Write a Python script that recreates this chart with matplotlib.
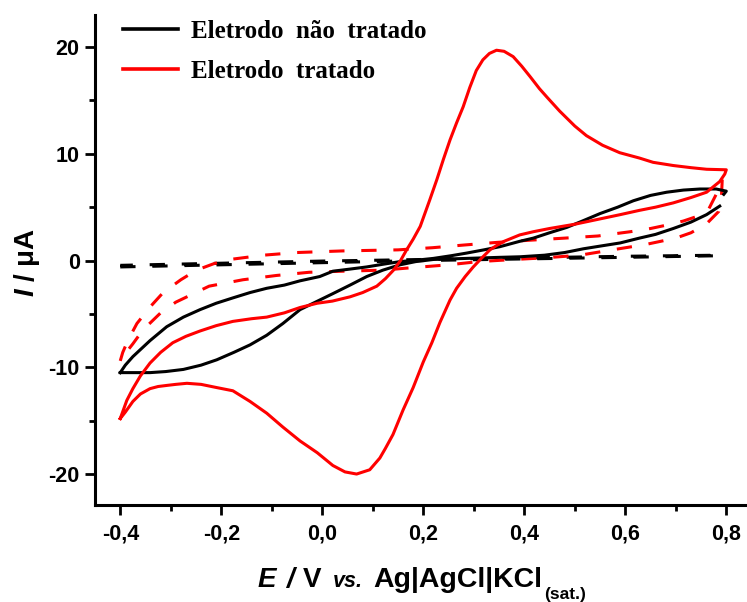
import matplotlib
matplotlib.use('Agg')
import matplotlib.pyplot as plt
import numpy as np
from matplotlib.transforms import IdentityTransform
from matplotlib.lines import Line2D
from matplotlib.font_manager import FontProperties

# ---------------- data ----------------
# Treated electrode, solid (forward then reverse scan)
red_E = [-0.400, -0.387, -0.375, -0.360, -0.341, -0.320, -0.296, -0.270, -0.242, -0.210,
         -0.177, -0.140, -0.110, -0.075, -0.044, -0.010, 0.020, 0.055, 0.080, 0.108,
         0.125, 0.141, 0.155, 0.167, 0.180, 0.194, 0.213, 0.227, 0.240, 0.253,
         0.266, 0.279, 0.292, 0.305, 0.318, 0.331, 0.345, 0.360, 0.378, 0.395,
         0.412, 0.430, 0.445, 0.470, 0.500, 0.523, 0.555, 0.589, 0.628, 0.655,
         0.695, 0.730, 0.761, 0.800,
         0.797, 0.787, 0.761, 0.730, 0.695, 0.660, 0.628, 0.590, 0.550, 0.500,
         0.450, 0.418, 0.391, 0.360, 0.345, 0.332, 0.315, 0.299, 0.283, 0.266,
         0.253, 0.233, 0.217, 0.200, 0.180, 0.160, 0.140, 0.125, 0.114, 0.094,
         0.068, 0.045, 0.021, -0.010, -0.044, -0.078, -0.110, -0.143, -0.177, -0.209,
         -0.240, -0.268, -0.290, -0.308, -0.325, -0.341, -0.360, -0.375, -0.390, -0.400]
red_I = [-14.8, -13.1, -12.0, -10.8, -9.6, -8.6, -7.7, -7.1, -6.6, -6.1,
         -5.7, -5.45, -5.3, -4.9, -4.4, -4.0, -3.8, -3.4, -3.0, -2.4,
         -1.7, -0.9, 0.0, 1.0, 2.0, 3.2, 5.7, 7.6, 9.5, 11.3,
         12.9, 14.4, 16.2, 17.8, 18.8, 19.4, 19.7, 19.6, 19.1, 18.2,
         17.2, 16.1, 15.3, 14.0, 12.6, 11.7, 10.8, 10.1, 9.6, 9.2,
         8.9, 8.7, 8.55, 8.5,
         8.1, 7.4, 6.4, 5.9, 5.4, 5.0, 4.7, 4.3, 3.9, 3.4,
         3.0, 2.7, 2.4, 1.8, 1.4, 1.0, 0.2, -0.6, -1.5, -2.6,
         -3.7, -5.8, -7.7, -9.5, -11.9, -14.0, -16.3, -17.6, -18.5, -19.6,
         -20.0, -19.8, -19.2, -18.0, -16.9, -15.6, -14.3, -13.2, -12.2, -11.9,
         -11.6, -11.5, -11.6, -11.7, -11.8, -12.0, -12.5, -13.2, -14.2, -14.8]

# Untreated electrode, solid (nan = gap at the positive vertex)
blk_E = [-0.400, -0.390, -0.375, -0.341, -0.308, -0.275, -0.242, -0.210, -0.177, -0.143,
         -0.110, -0.075, -0.044, -0.005, 0.021, 0.055, 0.088, 0.120, 0.154, 0.190,
         0.220, 0.255, 0.286, 0.320, 0.352, 0.391, 0.418, 0.450, 0.484, 0.515,
         0.550, 0.585, 0.616, 0.650, 0.682, 0.715, 0.748, 0.780, 0.800, 0.795,
         np.nan,
         0.787, 0.761, 0.730, 0.695, 0.660, 0.628, 0.590, 0.550, 0.517, 0.480,
         0.440, 0.391, 0.352, 0.286, 0.220, 0.185, 0.154, 0.120, 0.088, 0.055,
         0.021, -0.005, -0.044, -0.078, -0.110, -0.143, -0.175, -0.209, -0.240, -0.275,
         -0.310, -0.341, -0.370, -0.400]
blk_I = [-10.5, -9.8, -9.0, -7.5, -6.2, -5.3, -4.6, -4.0, -3.5, -3.0,
         -2.6, -2.3, -1.9, -1.5, -1.0, -0.8, -0.6, -0.35, -0.1, 0.05,
         0.2, 0.45, 0.7, 1.0, 1.3, 1.8, 2.1, 2.6, 3.1, 3.7,
         4.4, 5.0, 5.6, 6.1, 6.4, 6.6, 6.7, 6.7, 6.5, 6.2,
         np.nan,
         5.1, 4.3, 3.6, 3.0, 2.45, 2.1, 1.65, 1.35, 1.1, 0.75,
         0.5, 0.35, 0.3, 0.2, 0.1, -0.1, -0.4, -0.9, -1.5, -2.3,
         -3.1, -3.7, -4.6, -5.9, -7.0, -7.9, -8.6, -9.3, -9.8, -10.2,
         -10.4, -10.5, -10.5, -10.5]

# Treated electrode, dashed
redd_E = [-0.400, -0.395, -0.385, -0.367, -0.340, -0.315, -0.280, -0.249, -0.215, -0.183,
          -0.150, -0.117, -0.050, 0.040, 0.150, 0.218, 0.280, 0.346, 0.410, 0.480,
          0.546, 0.610, 0.650, 0.680, 0.715, 0.740, 0.765, 0.780, 0.792,
          0.790, 0.785, 0.760, 0.730, 0.700, 0.640, 0.574, 0.510, 0.440, 0.380,
          0.310, 0.250, 0.170, 0.120, 0.040, -0.026, -0.091, -0.157, -0.224, -0.290,
          -0.320, -0.355, -0.375, -0.390, -0.400]
redd_I = [-9.4, -8.6, -7.5, -5.9, -4.3, -3.0, -1.8, -0.9, -0.3, 0.1,
          0.3, 0.5, 0.75, 0.9, 1.0, 1.2, 1.45, 1.7, 1.9, 2.1,
          2.3, 2.7, 3.0, 3.3, 3.7, 4.1, 4.8, 6.2, 7.6,
          5.6, 4.6, 3.4, 2.6, 2.1, 1.5, 1.0, 0.5, 0.25, 0.1,
          -0.1, -0.4, -0.7, -0.9, -1.0, -1.1, -1.4, -1.8, -2.4, -3.9,
          -4.9, -6.5, -7.8, -8.7, -9.4]

# Untreated electrode, dashed
blkd_E = [-0.400, -0.200, 0.000, 0.200, 0.400, 0.600, 0.787,
          0.787, 0.600, 0.400, 0.200, 0.000, -0.200, -0.400]
blkd_I = [-0.6, -0.4, -0.2, 0.0, 0.15, 0.3, 0.45,
          0.5, 0.4, 0.25, 0.1, -0.05, -0.25, -0.45]

legend_labels = ['Eletrodo  não  tratado', 'Eletrodo  tratado']
x_ticks = [-0.4, -0.2, 0.0, 0.2, 0.4, 0.6, 0.8]
x_tick_labels = ['-0,4', '-0,2', '0,0', '0,2', '0,4', '0,6', '0,8']
x_minor = [-0.3, -0.1, 0.1, 0.3, 0.5, 0.7]
y_ticks = [-20, -10, 0, 10, 20]
y_tick_labels = ['-20', '-10', '0', '10', '20']
y_minor = [-15, -5, 5, 15]

# ---------------- style ----------------
plt.rcParams['font.family'] = ['Liberation Sans', 'DejaVu Sans']
plt.rcParams['font.weight'] = 'bold'
plt.rcParams['mathtext.fontset'] = 'custom'
plt.rcParams['mathtext.it'] = 'Liberation Sans:italic:bold'
plt.rcParams['mathtext.rm'] = 'Liberation Sans:bold'
plt.rcParams['mathtext.bf'] = 'Liberation Sans:bold'

W, H = 747, 602
fig = plt.figure(figsize=(W / 100, H / 100), dpi=100)
ax = fig.add_axes([95 / W, 97 / H, 652 / W, 490 / H])

lw = 2.2
dash = (5, 5.5)
ax.plot(blkd_E, blkd_I, color='black', lw=lw, dashes=dash)
ax.plot(redd_E, redd_I, color='red', lw=lw, dashes=dash)
ax.plot(blk_E, blk_I, color='black', lw=lw)
ax.plot(red_E, red_I, color='red', lw=lw)

ax.set_xlim(-0.450, 0.841)
ax.set_ylim(-22.9, 23.0)

for s in ['top', 'right']:
    ax.spines[s].set_visible(False)
for s in ['left', 'bottom']:
    ax.spines[s].set_linewidth(2.2)

ax.set_xticks(x_ticks)
ax.set_xticklabels(x_tick_labels)
ax.set_xticks(x_minor, minor=True)
ax.set_yticks(y_ticks)
ax.set_yticklabels(y_tick_labels)
ax.set_yticks(y_minor, minor=True)
ax.tick_params(which='major', direction='out', length=7, width=2, labelsize=15.5)
ax.tick_params(which='minor', direction='out', length=4, width=2)
ax.tick_params(axis='x', which='major', pad=6)
ax.tick_params(axis='y', which='major', pad=4)
for t in ax.get_xticklabels() + ax.get_yticklabels():
    t.set_fontweight('bold')

# legend
handles = [Line2D([], [], color='black', lw=2.6), Line2D([], [], color='red', lw=2.6)]
leg = ax.legend(handles, legend_labels, loc='upper left', bbox_to_anchor=(0.043, 0.990),
                frameon=False,
                prop=FontProperties(family='Liberation Serif', weight='bold', size=18),
                handlelength=2.2, handletextpad=0.5, labelspacing=0.68,
                borderpad=0, borderaxespad=0)

# y label
fig.text(27 / W, (H - 262) / H, r'$\mathit{I}$ / μA', rotation=90, ha='center', va='center',
         fontsize=20, fontweight='bold')

# x label built from pieces
renderer = fig.canvas.get_renderer()
pieces = [
    ('E', dict(fontsize=20, fontweight='bold', fontstyle='italic'), 0, 10),
    ('/', dict(fontsize=20, fontweight='bold', fontstyle='italic'), 0, 9),
    ('V', dict(fontsize=20, fontweight='bold'), 0, 11),
    ('vs.', dict(fontsize=15.5, fontweight='bold', fontstyle='italic'), 0, 11),
    ('Ag|AgCl|KCl', dict(fontsize=20.5, fontweight='bold'), 0, 2),
    ('(sat.)', dict(fontsize=12.5, fontweight='bold'), -12, 0),
]
baseline = H - 587
objs = []
x = 0.0
for s, props, dy, gap in pieces:
    t = fig.text(x, baseline + dy, s, transform=IdentityTransform(), ha='left',
                 va='baseline', **props)
    w = t.get_window_extent(renderer).width
    objs.append((t, x))
    x += w + gap
total = x
start = 422 - total / 2
for t, x0 in objs:
    px, py = t.get_position()
    t.set_position((start + x0, py))

fig.savefig('out.png', dpi=100)
